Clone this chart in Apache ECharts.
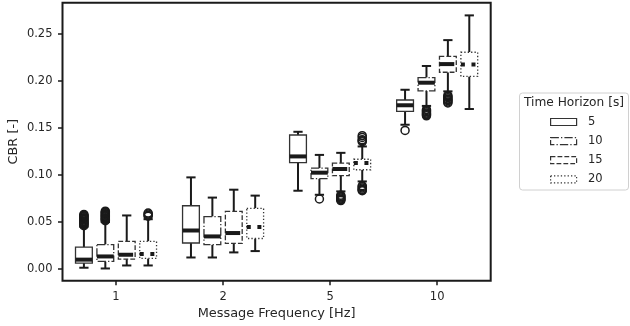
<!DOCTYPE html>
<html>
<head>
<meta charset="utf-8">
<script src="https://cdn.jsdelivr.net/npm/echarts@6/dist/echarts.min.js"></script>
<style>
  html, body { margin: 0; padding: 0; background: #fff; }
  #chart { width: 630px; height: 326px; }
</style>
</head>
<body>
<div id="chart"></div>
<script>
// Message frequencies on the x axis and time horizons (one box per horizon)
const categories = ['1', '2', '5', '10'];
const horizons = ['5', '10', '15', '20'];
const yTicks = [0, 0.05, 0.10, 0.15, 0.20, 0.25];

// Box statistics per frequency: [lower whisker, Q1, median, Q3, upper whisker]
const stats5 = [
  [0.0014, 0.0064, 0.0100, 0.0234, 0.0450],
  [0.0123, 0.0277, 0.0410, 0.0673, 0.0975],
  [0.0833, 0.1131, 0.1198, 0.1426, 0.1460],
  [0.1535, 0.1677, 0.1742, 0.1798, 0.1907]
];
const stats10 = [
  [0.0006, 0.0081, 0.0134, 0.0260, 0.0500],
  [0.0123, 0.0259, 0.0347, 0.0558, 0.0760],
  [0.0790, 0.0962, 0.1025, 0.1074, 0.1214],
  [0.1735, 0.1895, 0.1982, 0.2036, 0.2160]
];
const stats15 = [
  [0.0038, 0.0106, 0.0152, 0.0294, 0.0570],
  [0.0177, 0.0272, 0.0383, 0.0613, 0.0844],
  [0.0826, 0.0994, 0.1064, 0.1126, 0.1236],
  [0.1890, 0.2093, 0.2180, 0.2262, 0.2435]
];
const stats20 = [
  [0.0038, 0.0113, 0.0160, 0.0294, 0.0530],
  [0.0191, 0.0325, 0.0447, 0.0645, 0.0781],
  [0.0932, 0.1056, 0.1128, 0.1168, 0.1304],
  [0.1702, 0.2049, 0.2176, 0.2306, 0.2698]
];

// Outliers per frequency
const outliers5 = [
  [0.0581, 0.0572, 0.0563, 0.0555, 0.0546, 0.0538, 0.0529, 0.0521, 0.0512, 0.0503, 0.0495, 0.0487, 0.0478, 0.0470, 0.0461],
  [],
  [],
  [0.1474]
];
const outliers10 = [
  [0.0615, 0.0606, 0.0598, 0.0589, 0.0580, 0.0572, 0.0563, 0.0555, 0.0546, 0.0538, 0.0530, 0.0522, 0.0514],
  [],
  [0.0745],
  [0.1695, 0.1685, 0.1672, 0.1660, 0.1650, 0.1640, 0.1630]
];
const outliers15 = [
  [],
  [],
  [0.0785, 0.0775, 0.0765, 0.0755, 0.0745, 0.0737, 0.0728],
  [0.1847, 0.1835, 0.1822, 0.1810, 0.1800, 0.1790, 0.1778, 0.1766]
];
const outliers20 = [
  [0.0595, 0.0585, 0.0572, 0.0562],
  [],
  [0.1418, 0.1400, 0.1375, 0.1365, 0.1355, 0.0886, 0.0875, 0.0862, 0.0850, 0.0840, 0.0833],
  []
];

const allStats = [stats5, stats10, stats15, stats20];
const allOutliers = [outliers5, outliers10, outliers15, outliers20];

// Line styles for each horizon: solid, dash-dot, dashed, dotted
const boxDash = [null, [8.3, 2.1, 1.3, 2.1], [4.8, 2.1], [1.3, 2.1]];
const medianDash = [null, [25.6, 6.4, 4, 6.4], [14.8, 6.4], [4, 6.6]];

const INK = '#1a1a1a';
const TEXT = '#262626';
const FONT = 'DejaVu Sans';

function boxRenderer(idx) {
  return function (params, api) {
    const cat = api.value(0);
    const band = api.size([1, 0])[0];
    const cx = api.coord([cat, 0])[0] + (idx - 1.5) * 0.2 * band;
    const w = 0.157 * band;
    const capW = 0.55 * w;
    const yLow = api.coord([cat, api.value(1)])[1];
    const yQ1 = api.coord([cat, api.value(2)])[1];
    const yMed = api.coord([cat, api.value(3)])[1];
    const yQ3 = api.coord([cat, api.value(4)])[1];
    const yHigh = api.coord([cat, api.value(5)])[1];
    const whisker = { stroke: INK, lineWidth: 2, lineCap: 'butt' };
    return {
      type: 'group',
      children: [
        { type: 'line', shape: { x1: cx, y1: yQ1, x2: cx, y2: yLow }, style: whisker },
        { type: 'line', shape: { x1: cx, y1: yQ3, x2: cx, y2: yHigh }, style: whisker },
        { type: 'line', shape: { x1: cx - capW / 2, y1: yLow, x2: cx + capW / 2, y2: yLow }, style: whisker },
        { type: 'line', shape: { x1: cx - capW / 2, y1: yHigh, x2: cx + capW / 2, y2: yHigh }, style: whisker },
        {
          type: 'rect',
          shape: { x: cx - w / 2, y: yQ3, width: w, height: yQ1 - yQ3 },
          style: { fill: '#fff', stroke: '#333', lineWidth: 1.3, lineDash: boxDash[idx] }
        },
        {
          type: 'line',
          shape: { x1: cx - w / 2, y1: yMed, x2: cx + w / 2, y2: yMed },
          style: { stroke: INK, lineWidth: 4, lineCap: 'butt', lineDash: medianDash[idx] }
        }
      ]
    };
  };
}

function outlierRenderer(idx) {
  return function (params, api) {
    const cat = api.value(0);
    const band = api.size([1, 0])[0];
    const pt = api.coord([cat, api.value(1)]);
    const cx = pt[0] + (idx - 1.5) * 0.2 * band;
    return {
      type: 'circle',
      shape: { cx: cx, cy: pt[1], r: 4 },
      style: { fill: 'none', stroke: INK, lineWidth: 1.5 }
    };
  };
}

const series = [];
horizons.forEach(function (name, idx) {
  const legendStyle = { color: '#fff', borderColor: '#333', borderWidth: 1.2, borderType: boxDash[idx] || 'solid' };
  series.push({
    type: 'custom',
    name: name,
    renderItem: boxRenderer(idx),
    itemStyle: legendStyle,
    encode: { x: 0, y: [1, 2, 3, 4, 5] },
    data: allStats[idx].map(function (s, c) { return [c].concat(s); }),
    z: 2
  });
  const pts = [];
  allOutliers[idx].forEach(function (vals, c) {
    vals.forEach(function (v) { pts.push([c, v]); });
  });
  series.push({
    type: 'custom',
    name: name,
    renderItem: outlierRenderer(idx),
    itemStyle: legendStyle,
    encode: { x: 0, y: 1 },
    data: pts,
    z: 3
  });
});

const chart = echarts.init(document.getElementById('chart'), null, { renderer: 'canvas' });
chart.setOption({
  animation: false,
  backgroundColor: '#fff',
  textStyle: { fontFamily: FONT, color: TEXT },
  grid: {
    left: 62.5, top: 2.7, right: 139.3, bottom: 45.3,
    outerBoundsMode: 'none',
    containLabel: false,
    show: true, borderColor: INK, borderWidth: 2, backgroundColor: 'transparent'
  },
  xAxis: {
    type: 'category',
    data: categories,
    boundaryGap: true,
    name: 'Message Frequency [Hz]',
    nameLocation: 'middle',
    nameGap: 26.5,
    nameMoveOverlap: false,
    nameTextStyle: { fontSize: 12.9, color: TEXT, fontFamily: FONT },
    axisLine: { show: false, onZero: false },
    axisTick: { show: true, alignWithLabel: true, length: 4.5, lineStyle: { color: INK, width: 1.5 } },
    axisLabel: { fontSize: 11.5, color: TEXT, fontFamily: FONT, margin: 10 },
    splitLine: { show: false }
  },
  yAxis: {
    type: 'value',
    min: -0.0124,
    max: 0.2833,
    name: 'CBR [-]',
    nameLocation: 'middle',
    nameGap: 42,
    nameMoveOverlap: false,
    nameRotate: 90,
    nameTextStyle: { fontSize: 12.9, color: TEXT, fontFamily: FONT },
    axisLine: { show: false, onZero: false },
    axisTick: { show: true, length: 4.5, customValues: yTicks, lineStyle: { color: INK, width: 1.5 } },
    axisLabel: {
      fontSize: 11.5, color: TEXT, fontFamily: FONT, margin: 10,
      customValues: yTicks,
      formatter: function (v) { return v.toFixed(2); }
    },
    splitLine: { show: false }
  },
  legend: {
    orient: 'vertical',
    left: 545,
    top: 110,
    itemWidth: 26,
    itemHeight: 7,
    itemGap: 5.1,
    icon: 'rect',
    selectedMode: false,
    textStyle: { fontSize: 11.5, fontFamily: FONT, color: TEXT, lineHeight: 14, padding: [0, 0, 0, 6.3] },
    data: horizons.map(function (h, idx) {
      return {
        name: h,
        itemStyle: { color: '#fff', borderColor: '#333', borderWidth: 1.2, borderType: boxDash[idx] || 'solid' }
      };
    })
  },
  graphic: [
    {
      type: 'rect',
      shape: { x: 519.5, y: 93, width: 109, height: 97, r: 3 },
      style: { fill: '#fff', stroke: '#d0d0d0', lineWidth: 1 },
      z: 0
    },
    {
      type: 'text',
      x: 524,
      y: 103.3,
      style: { text: 'Time Horizon [s]', fontSize: 12.2, fontFamily: FONT, fill: TEXT, verticalAlign: 'middle' },
      z: 1
    }
  ],
  series: series
});
</script>
</body>
</html>
